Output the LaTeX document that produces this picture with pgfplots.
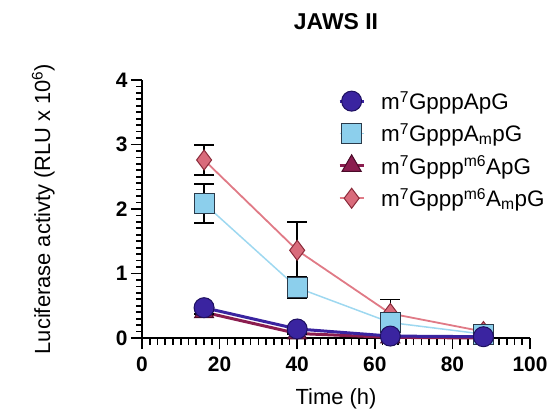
\documentclass[border=0pt]{standalone}
\usepackage{pgfplots}
\pgfplotsset{compat=1.18}
\usepackage{fontspec}
\setmainfont{Liberation Sans}
\definecolor{cCirc}{HTML}{3A24A0}
\definecolor{cCircE}{HTML}{1E1060}
\definecolor{cSq}{HTML}{8CCFEC}
\definecolor{cSqL}{HTML}{9ED8F0}
\definecolor{cSqE}{HTML}{2A3A4A}
\definecolor{cTri}{HTML}{8B1D4F}
\definecolor{cTriE}{HTML}{4A0A28}
\definecolor{cDia}{HTML}{D96B7B}
\definecolor{cDiaL}{HTML}{E07A86}
\definecolor{cDiaE}{HTML}{8A2A3A}
\begin{document}
\begin{tikzpicture}
\path[use as bounding box] (-142bp,-71bp) rectangle (407bp,338bp);
\begin{axis}[
  scale only axis, width=388bp, height=258bp,
  xmin=0, xmax=100, ymin=0, ymax=4,
  clip=false,
  axis x line*=bottom, axis y line*=left,
  axis line style={line width=2bp, black},
  xtick={0,20,...,100}, ytick={0,1,2,3,4},
  xtick align=outside, ytick align=outside,
  major tick length=11bp,
  tick style={black, line width=1.8bp},
  /pgf/number format/assume math mode=true,
  ticklabel style={font=\fontsize{21}{21}\selectfont\bfseries},
  xticklabel style={yshift=-4bp},
  title={JAWS II},
  title style={font=\fontsize{23}{23}\selectfont\bfseries, at={(axis description cs:0.5,1.174)}, anchor=base},
  xlabel={Time (h)},
  xlabel style={font=\fontsize{22}{22}\selectfont, at={(axis description cs:0.5,-0.256)}, anchor=base},
  ylabel={Luciferase activty (RLU x 10\textsuperscript{6})},
  ylabel style={font=\fontsize{22}{22}\selectfont, at={(axis description cs:-0.237,0.5)}, anchor=base, rotate=0},
  reverse legend,
  legend cell align=left,
  legend style={draw=none, fill=none, at={(axis description cs:0.505,0.965)}, anchor=north west,
    font=\fontsize{22.5}{22.5}\selectfont, inner sep=0pt, row sep=8.5bp, column sep=14bp,
    nodes={inner sep=2bp}},
  legend image code/.code={\draw[mark repeat=2,mark phase=2] plot coordinates {(0bp,0bp) (12bp,0bp) (24bp,0bp)};},
  error bars/error bar style={black, line width=1.5bp},
  error bars/error mark options={black, rotate=90, mark size=10bp, line width=1.5bp},
]
% minor axis ticks (decoration)
\pgfplotsinvokeforeach{0,2,...,100}{\draw[black, line width=1.7bp] (axis cs:#1,0) -- ++(0bp,-7bp);}
\pgfplotsinvokeforeach{0,20,...,100}{\draw[black, line width=1.8bp] (axis cs:#1,0) -- ++(0bp,-11bp);}
\pgfplotsinvokeforeach{0,0.1,...,4.01}{\draw[black, line width=1.7bp] (axis cs:0,#1) -- ++(-6bp,0bp);}
\pgfplotsinvokeforeach{0,1,...,4}{\draw[black, line width=1.8bp] (axis cs:0,#1) -- ++(-11bp,0bp);}
% diamond: m7Gppp m6 Am pG
\addplot[cDiaL, line width=1.8bp, mark=diamond*, mark size=10bp,
  mark options={fill=cDia, draw=cDiaE, line width=1bp},
  error bars/.cd, y dir=both, y explicit]
  coordinates {(16,2.76) +- (0,0.23) (40,1.36) +- (0,0.44) (64,0.38) +- (0,0.22) (88,0.10) +- (0,0.03)};
\addlegendentry{m\textsuperscript{7}Gppp\textsuperscript{m6}A\textsubscript{m}pG}
% triangle: m7Gppp m6 ApG
\addplot[cTri, line width=3bp, mark=triangle*, mark size=11bp,
  mark options={fill=cTri, draw=cTriE, line width=1bp},
  error bars/.cd, y dir=both, y explicit]
  coordinates {(16,0.40) +- (0,0.03) (40,0.07) +- (0,0.01) (64,0.01) +- (0,0.005) (88,0.0) +- (0,0.005)};
\addlegendentry{m\textsuperscript{7}Gppp\textsuperscript{m6}ApG}
% square: m7GpppAmpG
\addplot[cSqL, line width=1.5bp, mark=square*, mark size=10bp,
  mark options={fill=cSq, draw=cSqE, line width=1bp},
  error bars/.cd, y dir=both, y explicit]
  coordinates {(16,2.085) +- (0,0.305) (40,0.78) +- (0,0.17) (64,0.24) +- (0,0.05) (88,0.06) +- (0,0.02)};
\addlegendentry{m\textsuperscript{7}GpppA\textsubscript{m}pG}
% circle: m7GpppApG
\addplot[cCirc, line width=3bp, mark=*, mark size=10bp,
  mark options={fill=cCirc, draw=cCircE, line width=1bp},
  error bars/.cd, y dir=both, y explicit]
  coordinates {(16,0.47) +- (0,0.02) (40,0.14) +- (0,0.02) (64,0.03) +- (0,0.01) (88,0.02) +- (0,0.01)};
\addlegendentry{m\textsuperscript{7}GpppApG}
\end{axis}
\end{tikzpicture}
\end{document}
